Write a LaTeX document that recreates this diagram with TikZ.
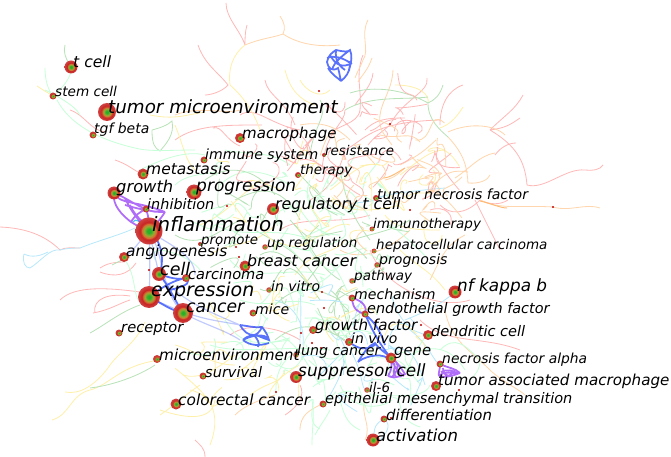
\documentclass[tikz,border=0pt]{standalone}
\usepackage{fontspec}
\setmainfont{DejaVu Sans}
\definecolor{hubgreen}{RGB}{40,175,40}
\definecolor{hubolive}{RGB}{150,170,50}
\definecolor{huborange}{RGB}{215,110,50}
\definecolor{hubred}{RGB}{200,35,35}
\definecolor{knotblue}{RGB}{50,80,250}
\definecolor{knotviolet}{RGB}{150,60,245}
\pgfdeclareradialshading{hubshade}{\pgfpoint{0bp}{0bp}}{color(0bp)=(hubgreen); color(3.5bp)=(hubgreen); color(9bp)=(hubolive); color(13bp)=(huborange); color(16bp)=(hubred); color(25bp)=(hubred!85!white); color(50bp)=(hubred!85!white)}
\tikzset{
  hub/.style={circle,shading=hubshade,inner sep=0pt,minimum size=#1},
  kw/.style={anchor=west,inner sep=0pt,text=black,font=\itshape},
  lred/.style={draw=red!28,line width=0.7pt},
  lorange/.style={draw=orange!32,line width=0.7pt},
  lyellow/.style={draw=yellow!70!orange!32,line width=0.7pt},
  lgreen/.style={draw=green!60!black!28,line width=0.7pt},
  lmint/.style={draw=green!70!cyan!22,line width=0.7pt},
  lcyan/.style={draw=cyan!28,line width=0.7pt},
  bluelink/.style={draw=knotblue,opacity=.8,line width=1.5pt},
  palelink/.style={draw=knotblue,opacity=.3,line width=1pt},
  purplelink/.style={draw=knotviolet,opacity=.75,line width=1.5pt},
  spot/.style={fill=red!75!black}
}
\begin{document}
\begin{tikzpicture}[x=0.03cm,y=-0.03cm]
\useasboundingbox (0,0) rectangle (671,457);
% nodes first, the links below refer to them
\foreach \nm/\x/\y/\r in {tcell/71/67/13,stemcell/53/96/7,tumormicro/107/112/18,tgfbeta/93/135/7,macrophage/240/138/10,immunesystem/204/160/7,resistance/324/155/4,therapy/298/175/6,metastasis/143/174/11,growth/114/193/13,progression/194/192/15,tnf/376/198/6,inhibition/146/209/7,regulatory/273/209/12,inflammation/149/231/27,immunotherapy/372/229/5,promote/200/244/4,upregulation/265/247/5.5,hepatocellular/374/251/5,angiogenesis/124/257/10,breastcancer/245/266/11,prognosis/377/265/5.5,cell/159/274/14,carcinoma/186/278/8,pathway/352/281/5.5,invitro/269/290/5.5,expression/149/297/22,nfkappab/455/292/13,mechanism/352/298/7,endothelial/365/314/7,cancer/183/313/20,mice/253/313/7,growthfactor/313/330/8,dendritic/428/335/10,receptor/119/333/7,invivo/349/342/8,microenv/157/359/8,lungcancer/296/355/5.5,gene/391/358/11,tnfalpha/440/364/7,survival/203/376/7,suppressor/296/377/12,tam/436/386/10,ilsix/367/390/5.5,colorectal/176/404/11,emt/323/404/7,differentiation/384/419/7,activation/373/440/13}
  \coordinate (\nm) at (\x,\y);
% red branches
\path[lred] (226,3)..controls(226,18)and(240,30)..(245,45) (247,25)..controls(245,32)and(245,38)..(245,45)
  (198,45)..controls(205,65)and(218,72)..(228,85)..controls(222,92)and(210,95)..(205,95)
  (265,80)..controls(267,95)and(285,100)..(295,125) (240,115)..controls(255,105)and(270,125)..(300,130)
  (70,110)..controls(85,115)and(90,130)..(105,132) (115,160)..controls(130,165)and(135,172)..(143,174)
  (213,128)..controls(222,125)and(225,140)..(240,146) (175,140)..controls(195,125)and(225,125)..(262,125)
  (363,55)..controls(355,75)and(362,90)..(360,110)..controls(358,125)and(335,125)..(330,135)
  (373,73)..controls(372,85)and(362,95)..(355,105) (427,78)..controls(430,92)and(402,100)..(390,125)..controls(382,132)and(375,136)..(368,145)
  (463,85)..controls(448,90)and(440,105)..(440,125) (345,150)..controls(365,140)and(370,122)..(440,120)
  (365,130)..controls(375,120)and(385,118)..(405,118) (345,110)..controls(345,125)and(325,130)..(322,170)
  (523,95)..controls(515,110)and(505,115)..(490,130) (520,118)..controls(510,125)and(505,128)..(490,130)
  (490,130)..controls(515,145)and(525,160)..(527,185)..controls(545,190)and(565,168)..(585,170)..controls(592,171)and(600,170)..(603,165)
  (495,155)..controls(500,148)and(508,143)..(516,143) (0,227)..controls(25,228)and(45,235)..(60,250)..controls(65,247)and(72,248)..(80,248)
  (60,300)..controls(75,285)and(110,288)..(140,292) (95,313)..controls(92,298)and(110,293)..(130,296) (93,313)..controls(110,310)and(120,303)..(130,300)
  (100,272)..controls(115,278)and(128,275)..(136,263) (125,262)..controls(110,262)and(105,265)..(100,268)
  (195,440)..controls(200,445)and(205,448)..(205,457) (370,250)..controls(385,290)and(440,310)..(470,300)
  (440,205)..controls(450,215)and(465,215)..(480,200)..controls(490,205)and(500,205)..(508,200) (310,200)..controls(330,190)and(340,170)..(345,150)
  (420,320)..controls(445,345)and(480,335)..(520,350) (475,200)..controls(490,230)and(495,240)..(500,250) (280,230)..controls(300,215)and(340,225)..(370,215)
  (230,335)..controls(250,320)and(285,330)..(300,340) (300,385)..controls(305,395)and(300,405)..(285,415) (430,210)..controls(445,205)and(455,215)..(450,225)
  (300,160)..controls(320,155)and(340,185)..(360,195);
% orange branches
\path[lorange] (245,45)..controls(262,38)and(272,38)..(283,34)..controls(286,28)and(284,22)..(280,16)
  (283,34)..controls(300,45)and(320,47)..(340,45) (368,20)..controls(360,35)and(370,50)..(363,60)..controls(360,68)and(357,72)..(355,78)
  (372,58)..controls(368,70)and(362,75)..(358,82) (393,70)..controls(392,90)and(382,100)..(380,115)..controls(378,130)and(385,135)..(392,145)
  (448,137)..controls(465,155)and(467,168)..(468,183)..controls(480,184)and(488,180)..(490,175) (448,132)..controls(470,122)and(495,125)..(505,135)
  (400,165)..controls(420,155)and(425,150)..(436,140) (385,180)..controls(395,178)and(400,172)..(405,168) (468,172)..controls(455,170)and(445,170)..(430,190)
  (455,178)..controls(468,170)and(480,155)..(495,153) (480,200)..controls(500,210)and(520,205)..(553,207)..controls(570,212)and(585,203)..(600,208)
  (175,115)..controls(200,105)and(225,115)..(240,110) (300,125)..controls(325,120)and(340,130)..(350,140) (420,142)..controls(410,130)and(400,140)..(380,135)
  (340,250)..controls(360,262)and(390,250)..(410,230) (430,280)..controls(440,260)and(445,245)..(465,235) (445,310)..controls(450,340)and(470,350)..(490,370)..controls(500,380)and(520,390)..(525,395)
  (365,440)..controls(372,425)and(360,415)..(365,400) (300,430)..controls(300,415)and(310,410)..(320,405) (235,415)..controls(245,405)and(260,400)..(275,395);
\path[draw=orange!55,line width=0.8pt] (480,201)..controls(490,203)and(500,208)..(507,208) (383,178)..controls(390,178)and(398,172)..(405,168);
% yellow branches
\path[lyellow] (37,86)..controls(43,90)and(48,93)..(53,96) (245,45)..controls(232,55)and(228,70)..(230,85)..controls(245,98)and(255,115)..(260,130)
  (285,70)..controls(290,90)and(300,100)..(315,105) (150,115)..controls(175,120)and(185,115)..(205,112) (175,125)..controls(185,150)and(185,160)..(195,170)
  (300,80)..controls(305,90)and(320,100)..(330,90) (395,85)..controls(420,85)and(430,95)..(428,103) (463,107)..controls(455,120)and(448,125)..(440,128)
  (400,175)..controls(420,160)and(430,150)..(445,150) (52,420)..controls(70,415)and(70,395)..(90,390)..controls(110,385)and(120,365)..(160,360)
  (65,392)..controls(80,395)and(95,385)..(108,368)..controls(118,352)and(135,345)..(145,322) (160,415)..controls(175,405)and(185,395)..(200,385)
  (190,390)..controls(215,395)and(220,420)..(210,445) (175,345)..controls(195,350)and(210,365)..(235,365) (183,375)..controls(200,380)and(215,370)..(235,355)
  (210,255)..controls(230,240)and(250,250)..(275,225) (200,225)..controls(225,215)and(235,200)..(260,180) (330,190)..controls(345,180)and(360,160)..(380,165)
  (330,200)..controls(350,215)and(380,210)..(400,205) (385,215)..controls(395,230)and(420,230)..(440,230) (295,275)..controls(310,250)and(335,255)..(345,240)
  (400,250)..controls(415,265)and(430,270)..(445,290) (250,395)..controls(270,380)and(280,385)..(285,370) (300,245)..controls(320,240)and(335,220)..(350,225)
  (215,400)..controls(212,420)and(190,420)..(160,410);
% green branches
\path[lgreen] (65,45)..controls(63,52)and(66,58)..(68,62) (152,130)..controls(160,128)and(168,125)..(172,121)..controls(175,135)and(165,145)..(160,151)..controls(155,148)and(152,145)..(152,130)
  (443,85)..controls(440,95)and(435,100)..(428,103)..controls(405,90)and(375,85)..(350,93) (428,103)..controls(428,120)and(440,130)..(448,137)
  (428,97)..controls(405,100)and(370,95)..(345,110) (90,333)..controls(105,325)and(120,312)..(140,305) (112,265)..controls(118,262)and(125,258)..(130,257)
  (90,388)..controls(115,385)and(140,375)..(155,365) (320,100)..controls(330,115)and(310,130)..(310,160) (205,180)..controls(225,165)and(255,165)..(275,195)
  (235,200)..controls(255,190)and(280,180)..(300,220) (300,175)..controls(320,195)and(325,205)..(345,215) (340,170)..controls(345,195)and(350,215)..(370,240)
  (290,220)..controls(310,240)and(315,265)..(340,280) (255,230)..controls(280,245)and(300,250)..(320,285) (345,245)..controls(355,235)and(385,235)..(410,220)
  (330,290)..controls(345,300)and(345,320)..(350,335) (275,305)..controls(300,280)and(320,290)..(340,300) (275,340)..controls(300,320)and(320,325)..(345,340)
  (175,235)..controls(200,250)and(220,230)..(240,220) (260,255)..controls(285,240)and(305,280)..(320,300);
% mint and cyan branches
\path[lmint] (45,68)..controls(45,80)and(48,90)..(53,96) (71,72)..controls(68,82)and(60,90)..(53,96) (45,90)..controls(55,95)and(75,105)..(80,115)
  (57,100)..controls(70,125)and(100,140)..(135,148)..controls(150,152)and(170,150)..(195,150) (140,170)..controls(160,160)and(185,150)..(205,155)
  (225,150)..controls(245,155)and(270,150)..(290,165) (175,185)..controls(185,175)and(200,175)..(215,172) (220,185)..controls(240,165)and(265,170)..(290,185)
  (215,225)..controls(240,240)and(280,225)..(310,240) (295,200)..controls(310,230)and(325,235)..(340,235) (310,180)..controls(300,205)and(320,215)..(322,230)
  (230,260)..controls(250,285)and(290,265)..(325,275) (300,285)..controls(320,290)and(335,270)..(345,260) (240,300)..controls(270,310)and(290,295)..(315,305)
  (210,345)..controls(240,355)and(280,345)..(330,350) (280,335)..controls(300,345)and(310,370)..(320,385) (276,395)..controls(275,375)and(280,362)..(296,352)
  (312,400)..controls(315,415)and(312,425)..(312,445) (330,410)..controls(325,420)and(320,425)..(315,435) (340,400)..controls(345,420)and(350,425)..(360,430)
  (440,350)..controls(455,335)and(465,345)..(480,360)..controls(480,370)and(475,375)..(470,380) (430,385)..controls(425,400)and(390,395)..(370,395)
  (150,295)..controls(130,315)and(140,280)..(125,260) (155,260)..controls(145,240)and(190,255)..(200,270) (225,320)..controls(240,345)and(255,345)..(290,340)
  (410,355)..controls(430,345)and(450,345)..(465,370) (392,400)..controls(380,410)and(350,410)..(340,385);
\path[lcyan] (24,254)..controls(22,262)and(25,268)..(30,268)..controls(40,262)and(50,248)..(60,250)..controls(68,248)and(75,248)..(81,248) (24,254)..controls(32,258)and(40,256)..(48,252)
  (80,248)..controls(100,240)and(120,235)..(135,228) (376,198)..controls(385,195)and(400,192)..(445,188) (385,195)..controls(370,205)and(360,200)..(350,205)
  (455,292)..controls(440,305)and(425,312)..(405,320) (395,330)..controls(410,325)and(420,335)..(428,335) (385,350)..controls(415,340)and(420,370)..(425,385)
  (350,350)..controls(365,375)and(360,390)..(367,390) (384,419)..controls(372,425)and(375,432)..(373,440) (384,419)..controls(393,425)and(385,435)..(380,440)
  (300,290)..controls(302,315)and(300,325)..(300,345) (275,300)..controls(295,305)and(305,325)..(303,345) (324,405)..controls(330,395)and(340,380)..(345,360)
  (320,375)..controls(330,365)and(340,355)..(345,350) (410,330)..controls(430,345)and(435,365)..(440,364);
% the thick of the net, filled in with short curved strands
\pgfmathsetseed{11}
\foreach \st/\xa/\xw/\ya/\yw/\n in {lmint/215/190/175/190/60,lgreen/230/160/190/150/28,lyellow/215/230/150/190/36,lred/300/140/95/110/26,lorange/330/130/110/120/24,lmint/290/120/345/60/22,lcyan/300/120/290/110/14,lred/230/110/105/70/10,lyellow/190/110/330/70/10}
  \foreach \i in {1,...,\n} {
    \pgfmathsetmacro\ax{\xa+rnd*\xw}
    \pgfmathsetmacro\ay{\ya+rnd*\yw}
    \pgfmathsetmacro\bx{\ax+40*rnd-20}
    \pgfmathsetmacro\by{\ay+40*rnd-20}
    \pgfmathsetmacro\cx{\ax+50*rnd-25}
    \pgfmathsetmacro\cy{\ay+50*rnd-25}
    \pgfmathsetmacro\dx{\ax+60*rnd-30}
    \pgfmathsetmacro\dy{\ay+60*rnd-30}
    \path[\st] (\ax,\ay)..controls(\bx,\by)and(\cx,\cy)..(\dx,\dy);
  }
% heavy groups of links
\draw[palelink] (inflammation)..controls(170,245)and(195,255)..(195,275) (inflammation)..controls(165,255)and(160,290)..(cancer)
  (expression)..controls(195,320)and(215,320)..(240,325) (cancer)..controls(205,325)and(225,330)..(240,340) (cell)..controls(180,300)and(205,310)..(240,325)
  (inflammation)--(cell) (inflammation)..controls(150,255)and(150,280)..(expression) (angiogenesis)..controls(135,250)and(140,240)..(inflammation);
\draw[bluelink] (cell)..controls(170,278)and(178,280)..(carcinoma) (carcinoma)..controls(190,282)and(190,285)..(170,290)
  (expression)..controls(165,285)and(175,280)..(carcinoma) (expression)..controls(165,305)and(170,310)..(cancer) (cell)..controls(168,285)and(175,300)..(cancer)
  (inflammation)..controls(162,240)and(165,262)..(cell);
\draw[draw=cyan!70,line width=1pt] (inflammation)..controls(138,220)and(136,218)..(133,222);
\draw[purplelink] (growth)..controls(125,197)and(135,205)..(inhibition) (growth)..controls(112,205)and(122,215)..(131,222)
  (growth)..controls(120,205)and(135,200)..(165,212) (inhibition)..controls(150,212)and(158,212)..(165,212) (131,222)..controls(135,215)and(140,212)..(inhibition)
  (125,198)..controls(128,205)and(135,218)..(inflammation) (inhibition)..controls(148,215)and(150,222)..(inflammation) (165,212)..controls(160,220)and(155,225)..(inflammation)
  (131,222)..controls(138,226)and(140,228)..(inflammation) (125,205)..controls(135,208)and(150,212)..(165,212) (130,205)..controls(133,212)and(138,218)..(143,222);
% blue knot at the top
\draw[bluelink] (327,62)..controls(328,55)and(333,52)..(336,50)..controls(345,52)and(348,52)..(350,50)..controls(352,55)and(352,60)..(349,70)..controls(350,62)and(354,62)..(348,62)
  (327,62)..controls(328,68)and(332,72)..(338,68)..controls(340,75)and(340,78)..(341,81) (350,65)..controls(350,72)and(345,78)..(341,81)
  (327,58)..controls(335,55)and(342,58)..(349,62) (336,50)..controls(335,60)and(338,65)..(345,70) (328,68)..controls(332,75)and(338,78)..(341,81)
  (350,50)..controls(342,56)and(334,62)..(332,70) (330,55)..controls(336,66)and(343,68)..(352,63);
% blue knot near the middle
\draw[bluelink] (240,325)..controls(248,326)and(255,328)..(262,327)..controls(266,332)and(268,336)..(269,340)..controls(262,338)and(258,335)..(254,335)
  (240,325)..controls(244,332)and(248,335)..(254,335) (243,340)..controls(248,335)and(252,336)..(254,335) (243,340)..controls(250,346)and(260,346)..(269,343)
  (262,327)..controls(260,332)and(256,335)..(254,335) (254,335)..controls(258,340)and(260,343)..(258,347) (243,340)..controls(250,336)and(265,332)..(269,340);
% purple and blue at the lower right
\draw[purplelink] (mechanism)..controls(353,310)and(358,312)..(endothelial) (mechanism)..controls(360,300)and(368,305)..(endothelial)
  (gene)..controls(398,362)and(402,370)..(405,374)..controls(398,378)and(392,378)..(388,376) (gene)..controls(392,365)and(392,370)..(388,376)
  (gene)..controls(395,368)and(398,372)..(404,376) (393,362)..controls(398,368)and(390,372)..(396,376) (396,362)..controls(400,368)and(396,372)..(392,377);
\draw[bluelink] (endothelial)..controls(373,322)and(378,325)..(385,345) (endothelial)..controls(372,330)and(380,345)..(gene)
  (358,362)..controls(365,350)and(370,345)..(375,343)..controls(380,350)and(385,352)..(gene) (358,362)..controls(362,358)and(378,352)..(388,358)
  (invivo)..controls(360,350)and(365,350)..(375,345);
\draw[purplelink] (tnfalpha)..controls(440,370)and(438,374)..(439,376) (tnfalpha)..controls(448,368)and(455,368)..(460,373)
  (439,376)..controls(445,370)and(452,374)..(460,373) (439,376)..controls(445,378)and(452,376)..(460,373) (443,368)..controls(442,374)and(448,378)..(452,374)
  (441,372)..controls(447,369)and(453,370)..(458,374);
% small unlabelled terms
\foreach \x/\y in {319/91,227/206,390/124,410/210,553/207,149/270,322/292,324/308,301/333,312/343,276/392,321/348,421/325,459/390,391/418,376/321,236/247,239/257}
  \fill[spot] (\x,\y) circle(1.1);
% the terms
\foreach \nm/\x/\y/\r in {tcell/71/67/13,stemcell/53/96/7,tumormicro/107/112/18,tgfbeta/93/135/7,macrophage/240/138/10,immunesystem/204/160/7,resistance/324/155/4,therapy/298/175/6,metastasis/143/174/11,growth/114/193/13,progression/194/192/15,tnf/376/198/6,inhibition/146/209/7,regulatory/273/209/12,inflammation/149/231/27,immunotherapy/372/229/5,promote/200/244/4,upregulation/265/247/5.5,hepatocellular/374/251/5,angiogenesis/124/257/10,breastcancer/245/266/11,prognosis/377/265/5.5,cell/159/274/14,carcinoma/186/278/8,pathway/352/281/5.5,invitro/269/290/5.5,expression/149/297/22,nfkappab/455/292/13,mechanism/352/298/7,endothelial/365/314/7,cancer/183/313/20,mice/253/313/7,growthfactor/313/330/8,dendritic/428/335/10,receptor/119/333/7,invivo/349/342/8,microenv/157/359/8,lungcancer/296/355/5.5,gene/391/358/11,tnfalpha/440/364/7,survival/203/376/7,suppressor/296/377/12,tam/436/386/10,ilsix/367/390/5.5,colorectal/176/404/11,emt/323/404/7,differentiation/384/419/7,activation/373/440/13}
  \node[hub=\r*0.03cm] (\nm-dot) at (\x,\y) {};
\foreach \nm/\x/\y/\s/\txt in {tcell/73/62/13.3/t cell,stemcell/55/91/11.6/stem cell,tumormicro/108/107/15.6/tumor microenvironment,tgfbeta/94/130/11.9/tgf beta,macrophage/242/134/12.8/macrophage,immunesystem/205/156/12/immune system,resistance/325/151/11.4/resistance,therapy/300/171/11.4/therapy,metastasis/146/169/13.2/metastasis,growth/116/188/13.9/growth,progression/196/187/14.5/progression,tnf/377/194/12/tumor necrosis factor,inhibition/147/204/12.3/inhibition,regulatory/275/205/13.5/regulatory t cell,inflammation/152/224.5/16.9/inflammation,immunotherapy/373/225/11.5/immunotherapy,promote/201/241/11.4/promote,upregulation/267/244/11.5/up regulation,hepatocellular/376/246/11.5/hepatocellular carcinoma,angiogenesis/126/252/13.1/angiogenesis,breastcancer/247/261/13.5/breast cancer,prognosis/379/261/12/prognosis,cell/160/269/14.9/cell,carcinoma/188/274/12.4/carcinoma,pathway/354/277/11.5/pathway,invitro/271/286/11.9/in vitro,expression/151/291/16.2/expression,nfkappab/457/287/14.4/nf kappa b,mechanism/354/294/12/mechanism,endothelial/367/310/12.3/endothelial growth factor,cancer/186/308/14.7/cancer,mice/255/309/12/mice,growthfactor/315/326/12.9/growth factor,dendritic/431/331/12.4/dendritic cell,receptor/121/329/12.5/receptor,invivo/351/338/11.9/in vivo,microenv/159/355/13/microenvironment,lungcancer/297/352/12.1/lung cancer,gene/394/353/12.6/gene,tnfalpha/442/360/11.8/necrosis factor alpha,survival/205/372/12.4/survival,suppressor/298/371.5/14.4/suppressor cell,tam/438/381/12.9/tumor associated macrophage,ilsix/369/387/11.5/il-6,colorectal/178/400/13.1/colorectal cancer,emt/325/399/12.4/epithelial mesenchymal transition,differentiation/386/415/12.7/differentiation,activation/376/435/14.1/activation}
  \node[kw] (\nm-txt) at (\x,\y) {\fontsize{\s}{\s}\selectfont \txt};
\end{tikzpicture}
\end{document}
